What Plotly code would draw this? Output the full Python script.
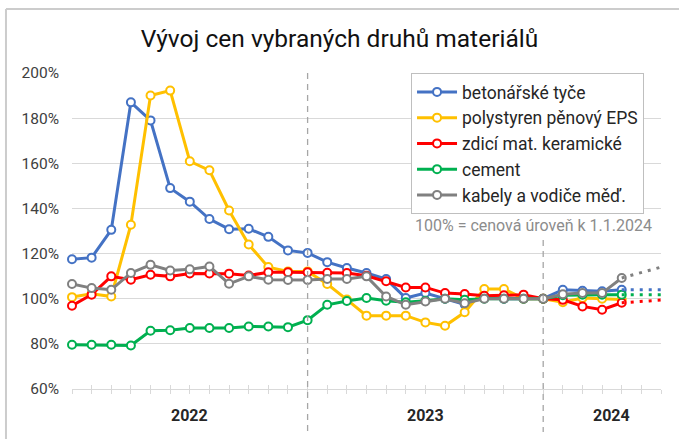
import plotly.graph_objects as go

# ---- data (index = month since Jan 2022) ----
months = [f"{m}/{y}" for y in (2022, 2023, 2024) for m in range(1, 13)][:29]
month_idx = list(range(len(months)))
years = ["2022", "2023", "2024"]
year_centers = [6, 18, 27.5]
year_starts = [12, 24]

series_names = ["betonářské tyče", "polystyren pěnový EPS", "zdicí mat. keramické",
                "cement", "kabely a vodiče měď."]
betonarske = [117.5, 118.2, 130.5, 187, 179, 149, 143, 135.3, 130.8, 131, 127.4, 121.4,
              120.3, 116.2, 113.6, 111.4, 108.7, 100.3, 102.5, 100, 97.5, 101, 100, 100,
              100, 104, 103.5, 103.3, 104]
polystyren = [100.7, 102.2, 101, 132.8, 190, 192.2, 160.9, 156.9, 139.1, 124, 114, 112.1,
              112.1, 106.5, 99.6, 92.5, 92.5, 92.5, 89.5, 88, 94, 104.3, 104.3, 100,
              100, 98.4, 100.3, 100, 99.6]
zdici = [96.9, 101.8, 109.9, 108.4, 110.6, 109.9, 111.2, 111.2, 111.1, 110.3, 111.7, 111.7,
         111.7, 111.5, 111.4, 110.2, 107.7, 105, 105, 102.5, 102.1, 101.3, 101.5, 101.8,
         100, 99.5, 96.6, 95.1, 98.2]
cement = [79.6, 79.6, 79.6, 79.3, 85.8, 86, 87, 87, 87, 87.7, 87.7, 87.4,
          90.5, 97.3, 99, 100.3, 99.1, 98.4, 99.1, 100, 99.5, 100, 100, 100,
          100, 101.5, 101.8, 101.8, 101.8]
kabely = [106.5, 104.7, 104, 111.4, 115, 112.5, 113, 114.3, 106.6, 109.9, 108.4, 108.3,
          108.3, 108.7, 108.7, 109.9, 101, 97.3, 98.8, 100, 98, 100, 100, 100,
          100, 102, 102.5, 102.5, 109.2]

# dotted forecast continuation (May 2024 -> Jul 2024)
fc_idx = [28, 29, 30]
fc_betonarske = [104, 104, 104]
fc_cement = [101.8, 101.8, 101.8]
fc_zdici = [98.2, 98.8, 99.4]
fc_kabely = [109.2, 111.6, 114]

colors = ["#4472C4", "#FFC000", "#FF0000", "#00B050", "#808080"]
values = [betonarske, polystyren, zdici, cement, kabely]

fig = go.Figure()
for name, vals, col in zip(series_names, values, colors):
    fig.add_trace(go.Scatter(
        x=month_idx, y=vals, name=name, mode="lines+markers",
        line=dict(color=col, width=3),
        marker=dict(symbol="circle", size=8, color="white", line=dict(color=col, width=2)),
        cliponaxis=False,
    ))

for vals, col in [(fc_betonarske, colors[0]), (fc_cement, colors[3]),
                  (fc_zdici, colors[2]), (fc_kabely, colors[4])]:
    fig.add_trace(go.Scatter(
        x=fc_idx, y=vals, mode="lines", showlegend=False, xaxis="x2",
        line=dict(color=col, width=3, dash="3px,6px"), cliponaxis=False,
        hoverinfo="skip",
    ))

grid = "#d9d9d9"
shapes = []
# vertical dashed year separators
shapes.append(dict(type="line", xref="x", yref="paper", x0=year_starts[0], x1=year_starts[0],
                   y0=1.0, y1=-0.136, line=dict(color="#a6a6a6", width=1.3, dash="6px,5px")))
shapes.append(dict(type="line", xref="x", yref="paper", x0=year_starts[1], x1=year_starts[1],
                   y0=0.4715, y1=-0.136, line=dict(color="#a6a6a6", width=1.3, dash="6px,5px")))
# outer frame (top + left)
shapes.append(dict(type="line", xref="paper", yref="paper", x0=-0.1121, x1=1.04,
                   y0=1.2025, y1=1.2025, line=dict(color="#cccccc", width=2)))
shapes.append(dict(type="line", xref="paper", yref="paper", x0=-0.1121, x1=-0.1121,
                   y0=1.2025, y1=-0.16, line=dict(color="#cccccc", width=2)))

annotations = []
for yl, xc in zip(years, year_centers):
    annotations.append(dict(text=f"<b>{yl}</b>", x=xc, y=-0.0854, xref="x", yref="paper",
                            showarrow=False, font=dict(size=16, color="#262626", family="Roboto"),
                            xanchor="center", yanchor="middle"))
annotations.append(dict(text="100% = cenová úroveň k 1.1.2024", x=0.988, y=0.516,
                        xref="paper", yref="paper", xanchor="right", yanchor="middle",
                        showarrow=False, font=dict(size=16, color="#8c8c8c", family="Roboto")))

fig.update_layout(
    width=679, height=439,
    margin=dict(l=72, r=18, t=73, b=50),
    paper_bgcolor="white", plot_bgcolor="white",
    font=dict(family="Roboto", color="#404040"),
    title=dict(text="Vývoj cen vybraných druhů materiálů", x=0.5, xanchor="center",
               xref="container", y=1 - 38 / 439, yref="container", yanchor="middle",
               font=dict(size=24.5, color="#111111", family="Roboto")),
    xaxis=dict(range=[0, 30], showgrid=False, showticklabels=False, zeroline=False,
               showline=True, linecolor=grid, linewidth=1,
               ticks="outside", ticklen=4, tickcolor=grid, tickwidth=1,
               tickmode="linear", tick0=0, dtick=1),
    xaxis2=dict(range=[0, 30], overlaying="x", matches="x", side="bottom", showgrid=False,
                showticklabels=False, zeroline=False, showline=False,
                ticks="inside", ticklen=4, tickcolor=grid, tickwidth=1,
                tickmode="linear", tick0=0, dtick=1),
    yaxis=dict(range=[60, 200], dtick=20, tick0=60, ticksuffix="%", showgrid=True,
               gridcolor=grid, gridwidth=1, zeroline=False, showline=False,
               tickfont=dict(size=15.5, color="#404040", family="Roboto"),
               ticks="", ticklabelstandoff=12),
    legend=dict(x=0.5756, y=1.0, xanchor="left", yanchor="top",
                bgcolor="white", bordercolor="#bfbfbf", borderwidth=1,
                font=dict(size=17.5, color="#262626", family="Roboto"),
                itemwidth=40, tracegroupgap=0),
    shapes=shapes,
    annotations=annotations,
    showlegend=True,
)

fig.write_html("out.html", post_script="document.body.style.margin='0';",
               config={"displayModeBar": False})
